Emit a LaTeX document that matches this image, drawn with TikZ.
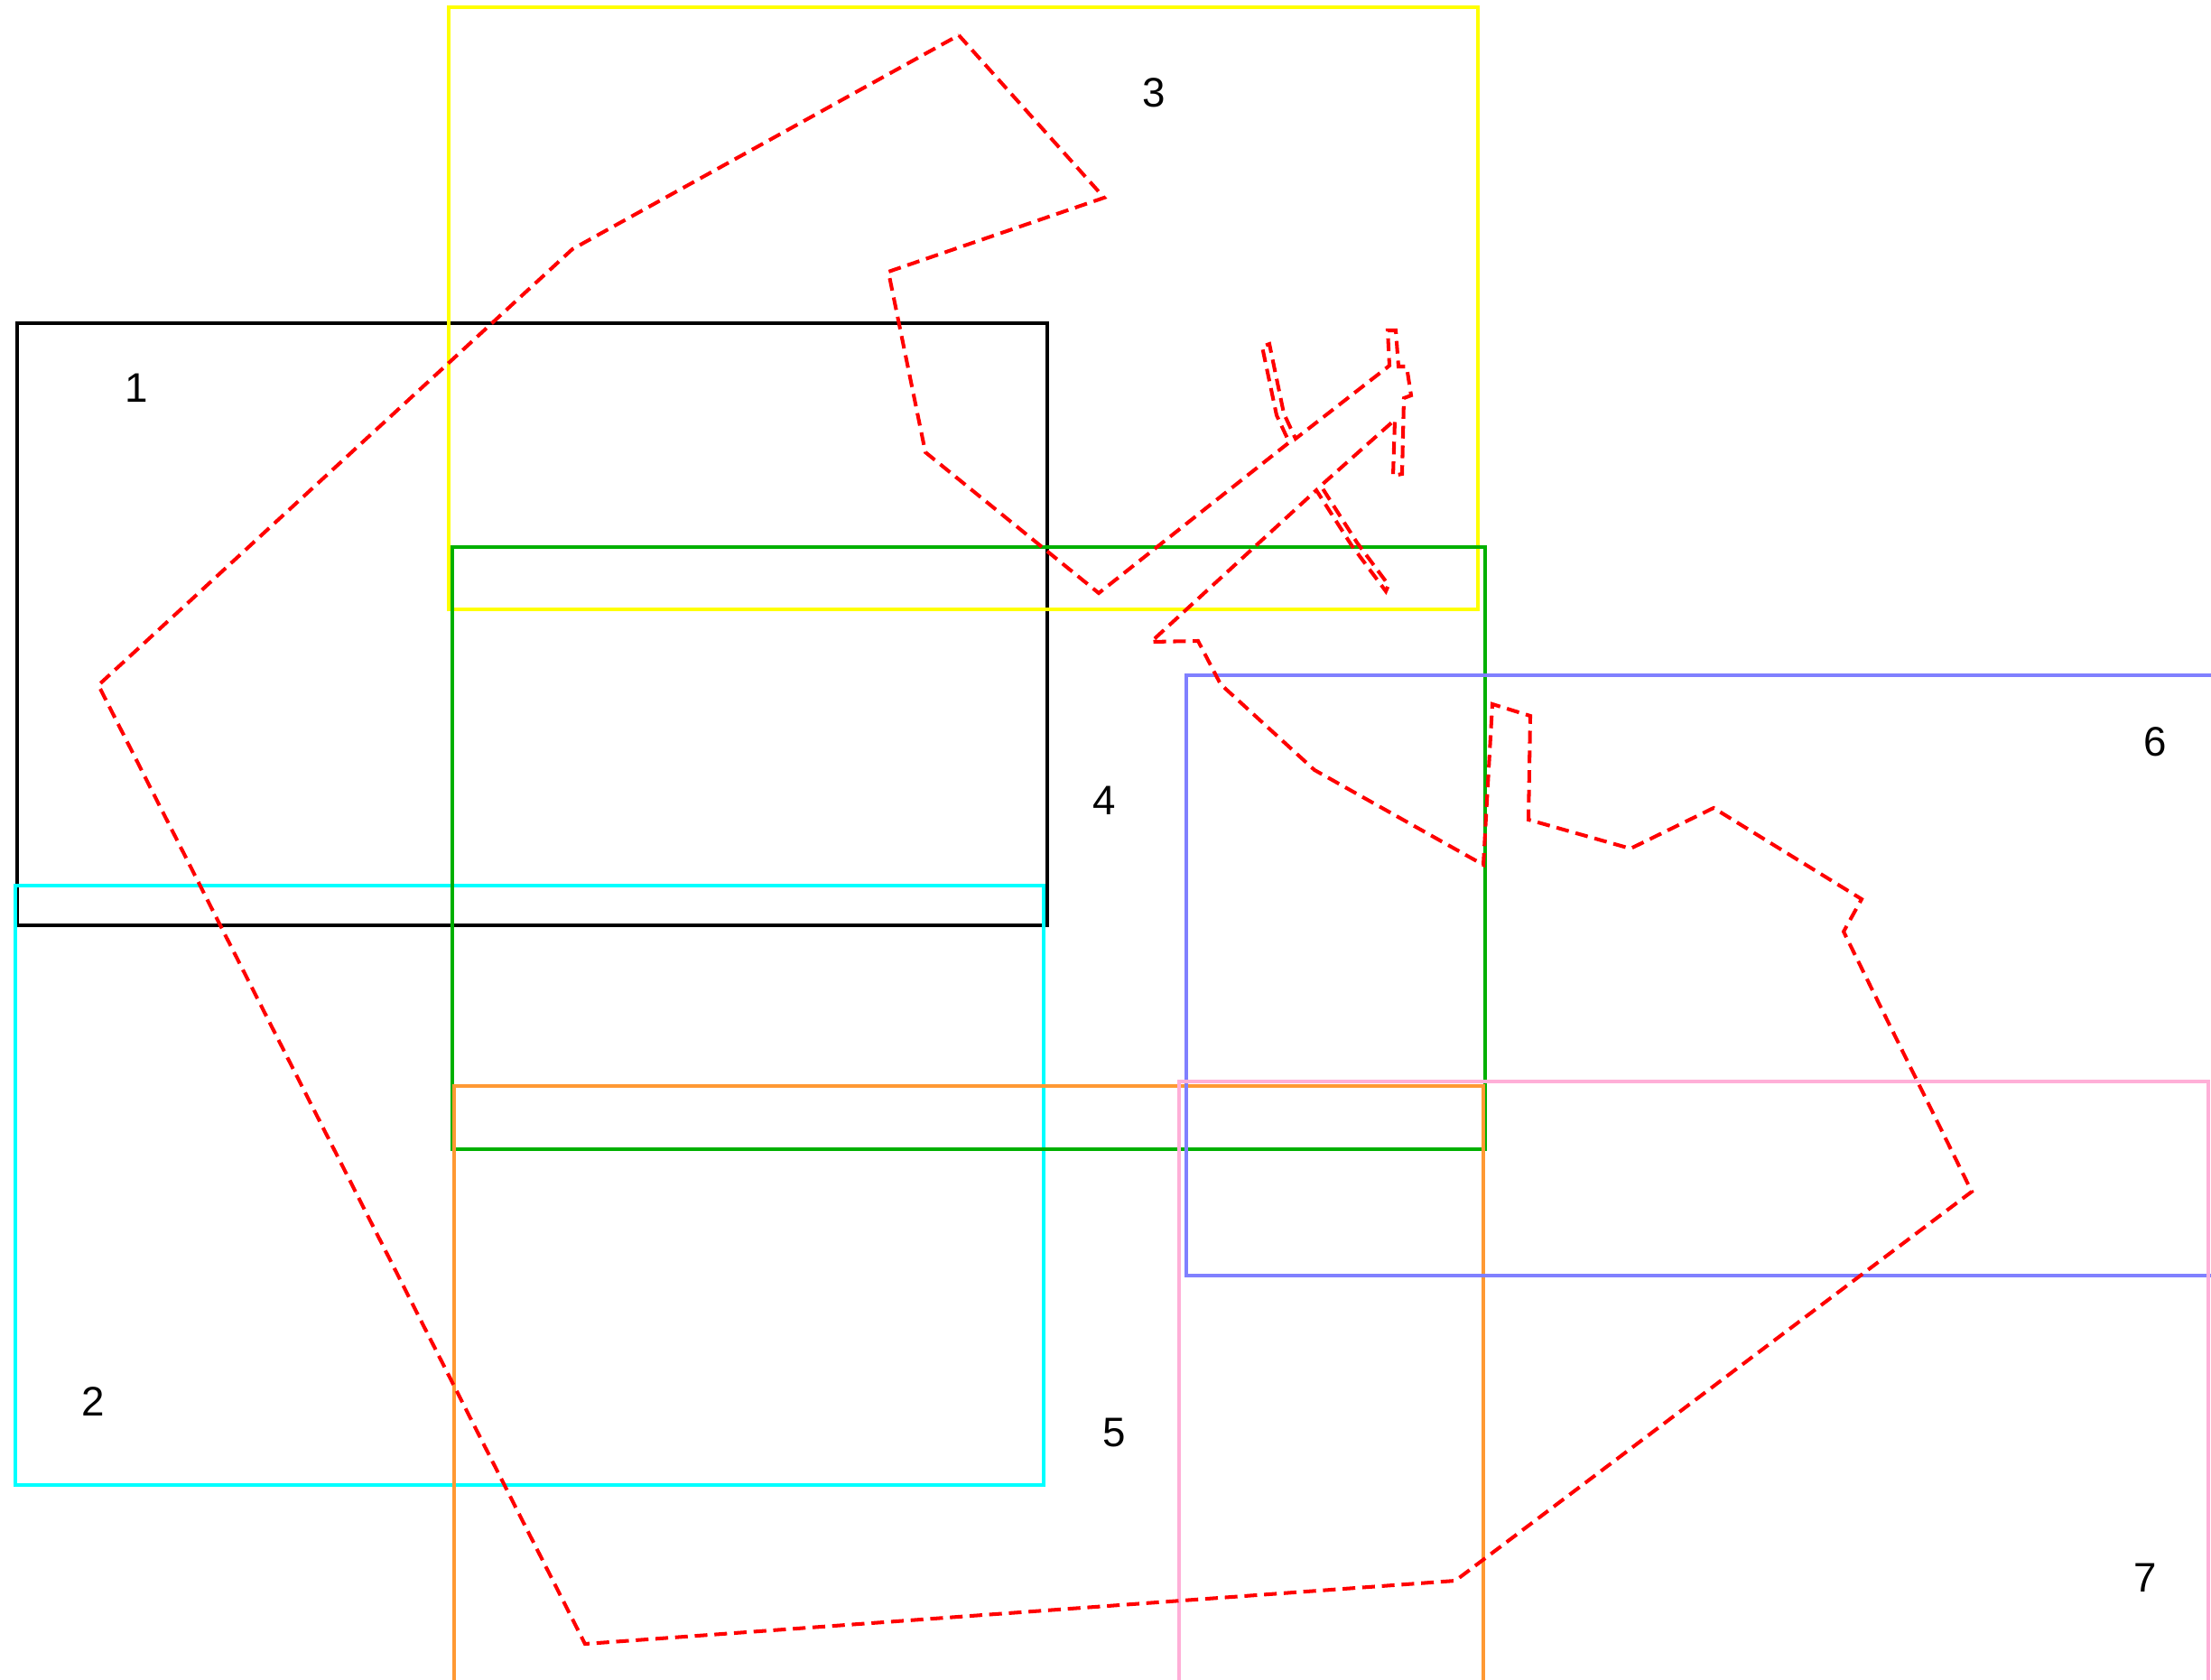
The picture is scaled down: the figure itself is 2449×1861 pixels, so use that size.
\documentclass[tikz,border=0pt]{standalone}
\usepackage{fontspec}
\setmainfont{Liberation Sans}
\definecolor{cyanR}{RGB}{0,255,255}
\definecolor{yellowR}{RGB}{255,255,0}
\definecolor{greenR}{RGB}{0,176,0}
\definecolor{orangeR}{RGB}{255,153,51}
\definecolor{blueR}{RGB}{128,128,255}
\definecolor{pinkR}{RGB}{255,175,215}
\definecolor{redR}{RGB}{255,0,0}
\begin{document}
\begin{tikzpicture}[x=0.01cm,y=-0.01cm,
  box/.style={line width=1.1pt},
  lbl/.style={font=\fontsize{13}{15}\selectfont, inner sep=0pt},
  outline/.style={draw=redR, line width=1.15pt, dash pattern=on 4pt off 2.2pt, line join=miter}]
\useasboundingbox (0,0) rectangle (2449,1861);
\begin{scope}
\clip (0,0) rectangle (2449,1861);
\draw[box, black]   (19,358) rectangle (1160,1025);
\draw[box, cyanR]   (17,981) rectangle (1156,1645);
\draw[box, yellowR] (497,8) rectangle (1637,675);
\draw[box, greenR]  (501,606) rectangle (1645,1273);
\draw[box, orangeR] (503,1203) rectangle (1643,1870);
\draw[box, blueR]   (1314,748) rectangle (2454,1413);
\draw[box, pinkR]   (1306,1198) rectangle (2446,1870);
\node[lbl] (l1) at (151,430) {1};
\node[lbl] (l2) at (103,1553) {2};
\node[lbl] (l3) at (1278,103) {3};
\node[lbl] (l4) at (1223,887) {4};
\node[lbl] (l5) at (1234,1587) {5};
\node[lbl] (l6) at (2387,822) {6};
\node[lbl] (l7) at (2376,1748) {7};
\draw[outline] (1062,39) -- (1223,219) -- (984,301) -- (1025,501) -- (1217,657)
  -- (1428,490) -- (1414,460) -- (1398,384) -- (1406,381) -- (1422,458) -- (1435,486)
  -- (1539,405) -- (1537,366) -- (1546,366) -- (1549,406) -- (1558,406) -- (1563,438)
  -- (1555,441) -- (1553,525) -- (1543,527) -- (1545,465)
  -- (1463,538) -- (1503,601) -- (1538,648) -- (1535,655) -- (1497,604) -- (1458,543)
  -- (1275,711) -- (1327,710) -- (1352,758) -- (1456,853) -- (1643,958)
  -- (1653,780) -- (1695,793) -- (1693,908) -- (1806,940) -- (1898,895)
  -- (2062,996) -- (2042,1032) -- (2184,1320) -- (1612,1751) -- (648,1821)
  -- (109,759) -- (634,276) -- cycle;
\end{scope}
\end{tikzpicture}
\end{document}
